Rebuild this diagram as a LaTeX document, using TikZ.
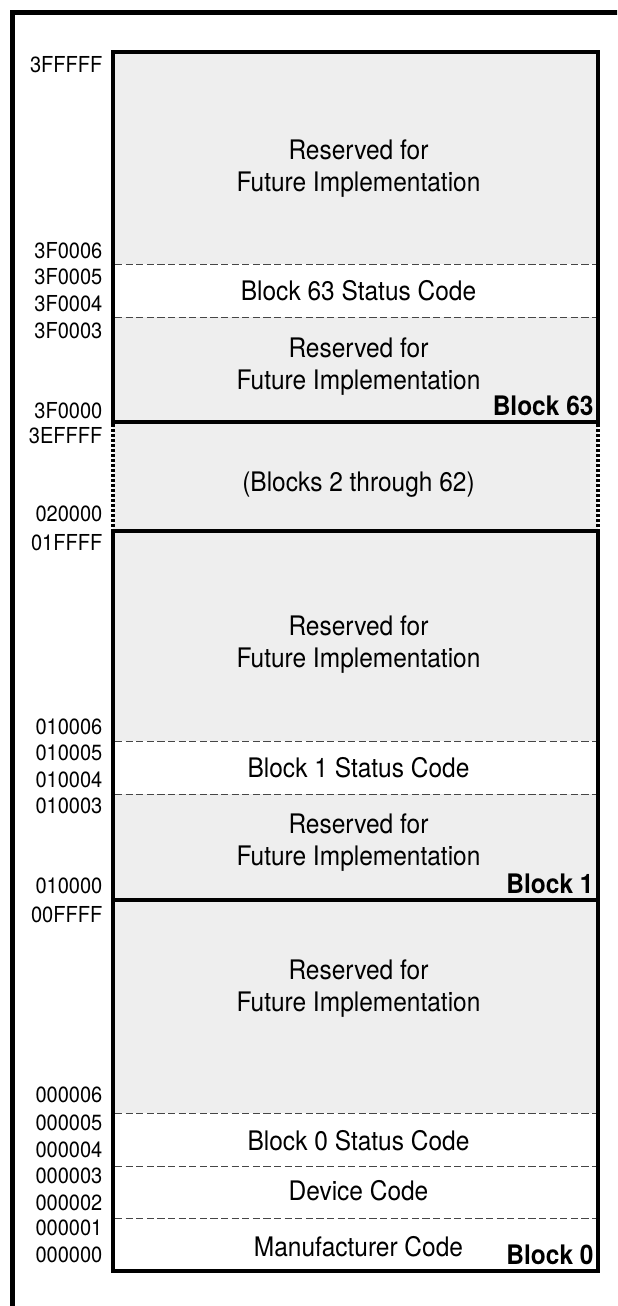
\documentclass[tikz,border=0pt]{standalone}
\usepackage{fontspec}
\setmainfont{TeX Gyre Heros}[FakeStretch=0.91]
\definecolor{memgray}{RGB}{238,238,238}
\definecolor{dashgray}{RGB}{70,70,70}
\begin{document}
\begin{tikzpicture}[x=0.5pt,y=-0.5pt,
  addr/.style={anchor=east, inner sep=0pt, font=\fontsize{11}{13}\selectfont},
  maintext/.style={inner sep=0pt, align=center, font=\fontsize{13.45}{16.15}\selectfont},
  oneline/.style={anchor=base, inner sep=0pt, font=\fontsize{13.45}{16.15}\selectfont},
  blocklbl/.style={anchor=base east, inner sep=0pt, font=\fontsize{13.45}{16.15}\selectfont\bfseries},
  region/.style={fill=memgray},
  divider/.style={draw=dashgray, line width=0.5pt, dash pattern=on 3.6pt off 1.7pt},
  boxline/.style={line width=2.25pt, line join=miter},
  dotside/.style={line width=2pt, dash pattern=on 1.25pt off 1.25pt},
  frameline/.style={line width=2.5pt, line join=miter}]
\useasboundingbox (0,0) rectangle (617,1306);
\clip (0,0) rectangle (617,1306);
\fill[white] (0,0) rectangle (617,1306);

% shaded regions
\path[region] (113,52) rectangle (598,264);
\path[region] (113,317) rectangle (598,422);
\path[region] (113,422) rectangle (598,531);
\path[region] (113,531) rectangle (598,741);
\path[region] (113,794) rectangle (598,900);
\path[region] (113,900) rectangle (598,1113);

% dashed dividers
\foreach \yy in {264,317,741,794,1113,1166,1218}
  \draw[divider] (115,\yy) -- (596,\yy);

% block outlines
\draw[boxline] (113,52) rectangle (598,422);
\draw[boxline] (113,531) rectangle (598,1271);
\draw[boxline] (113,900) -- (598,900);
\draw[dotside] (113,424) -- (113,529);
\draw[dotside] (598,424) -- (598,529);

% outer frame
\draw[frameline] (12.5,1330) -- (12.5,12.5) -- (640,12.5);

% main texts
\node[maintext] (r63a) at (358.5,168.25) {Reserved for\\Future Implementation};
\node[oneline] (s63) at (358.5,300) {Block 63 Status Code};
\node[maintext] (r63b) at (358.5,366.25) {Reserved for\\Future Implementation};
\node[blocklbl] (b63) at (594,415.5) {Block 63};
\node[oneline] (mid) at (358.5,491.5) {(Blocks 2 through 62)};
\node[maintext] (r1a) at (358.5,644.25) {Reserved for\\Future Implementation};
\node[oneline] (s1) at (358.5,777) {Block 1 Status Code};
\node[maintext] (r1b) at (358.5,842.5) {Reserved for\\Future Implementation};
\node[blocklbl] (b1) at (594,893.5) {Block 1};
\node[maintext] (r0a) at (358.5,988.5) {Reserved for\\Future Implementation};
\node[oneline] (s0) at (358.5,1150) {Block 0 Status Code};
\node[oneline] (dev) at (358.5,1200) {Device Code};
\node[oneline] (man) at (358.5,1256) {Manufacturer Code};
\node[blocklbl] (b0) at (594,1264.5) {Block 0};

% address labels
\node[addr] (a1) at (102.7,64.5) {3FFFFF};
\node[addr] (a2) at (102.7,250.5) {3F0006};
\node[addr] (a3) at (102.7,277) {3F0005};
\node[addr] (a4) at (102.7,304) {3F0004};
\node[addr] (a5) at (102.7,330.5) {3F0003};
\node[addr] (a6) at (102.7,410.5) {3F0000};
\node[addr] (a7) at (102.7,436) {3EFFFF};
\node[addr] (a8) at (102.7,514) {020000};
\node[addr] (a9) at (102.7,543) {01FFFF};
\node[addr] (a10) at (102.7,726.5) {010006};
\node[addr] (a11) at (102.7,753) {010005};
\node[addr] (a12) at (102.7,779.5) {010004};
\node[addr] (a13) at (102.7,806) {010003};
\node[addr] (a14) at (102.7,885.8) {010000};
\node[addr] (a15) at (102.7,914.7) {00FFFF};
\node[addr] (a16) at (102.7,1095) {000006};
\node[addr] (a17) at (102.7,1122.5) {000005};
\node[addr] (a18) at (102.7,1149.5) {000004};
\node[addr] (a19) at (102.7,1176) {000003};
\node[addr] (a20) at (102.7,1202.5) {000002};
\node[addr] (a21) at (102.7,1228) {000001};
\node[addr] (a22) at (102.7,1255) {000000};
\end{tikzpicture}
\end{document}
